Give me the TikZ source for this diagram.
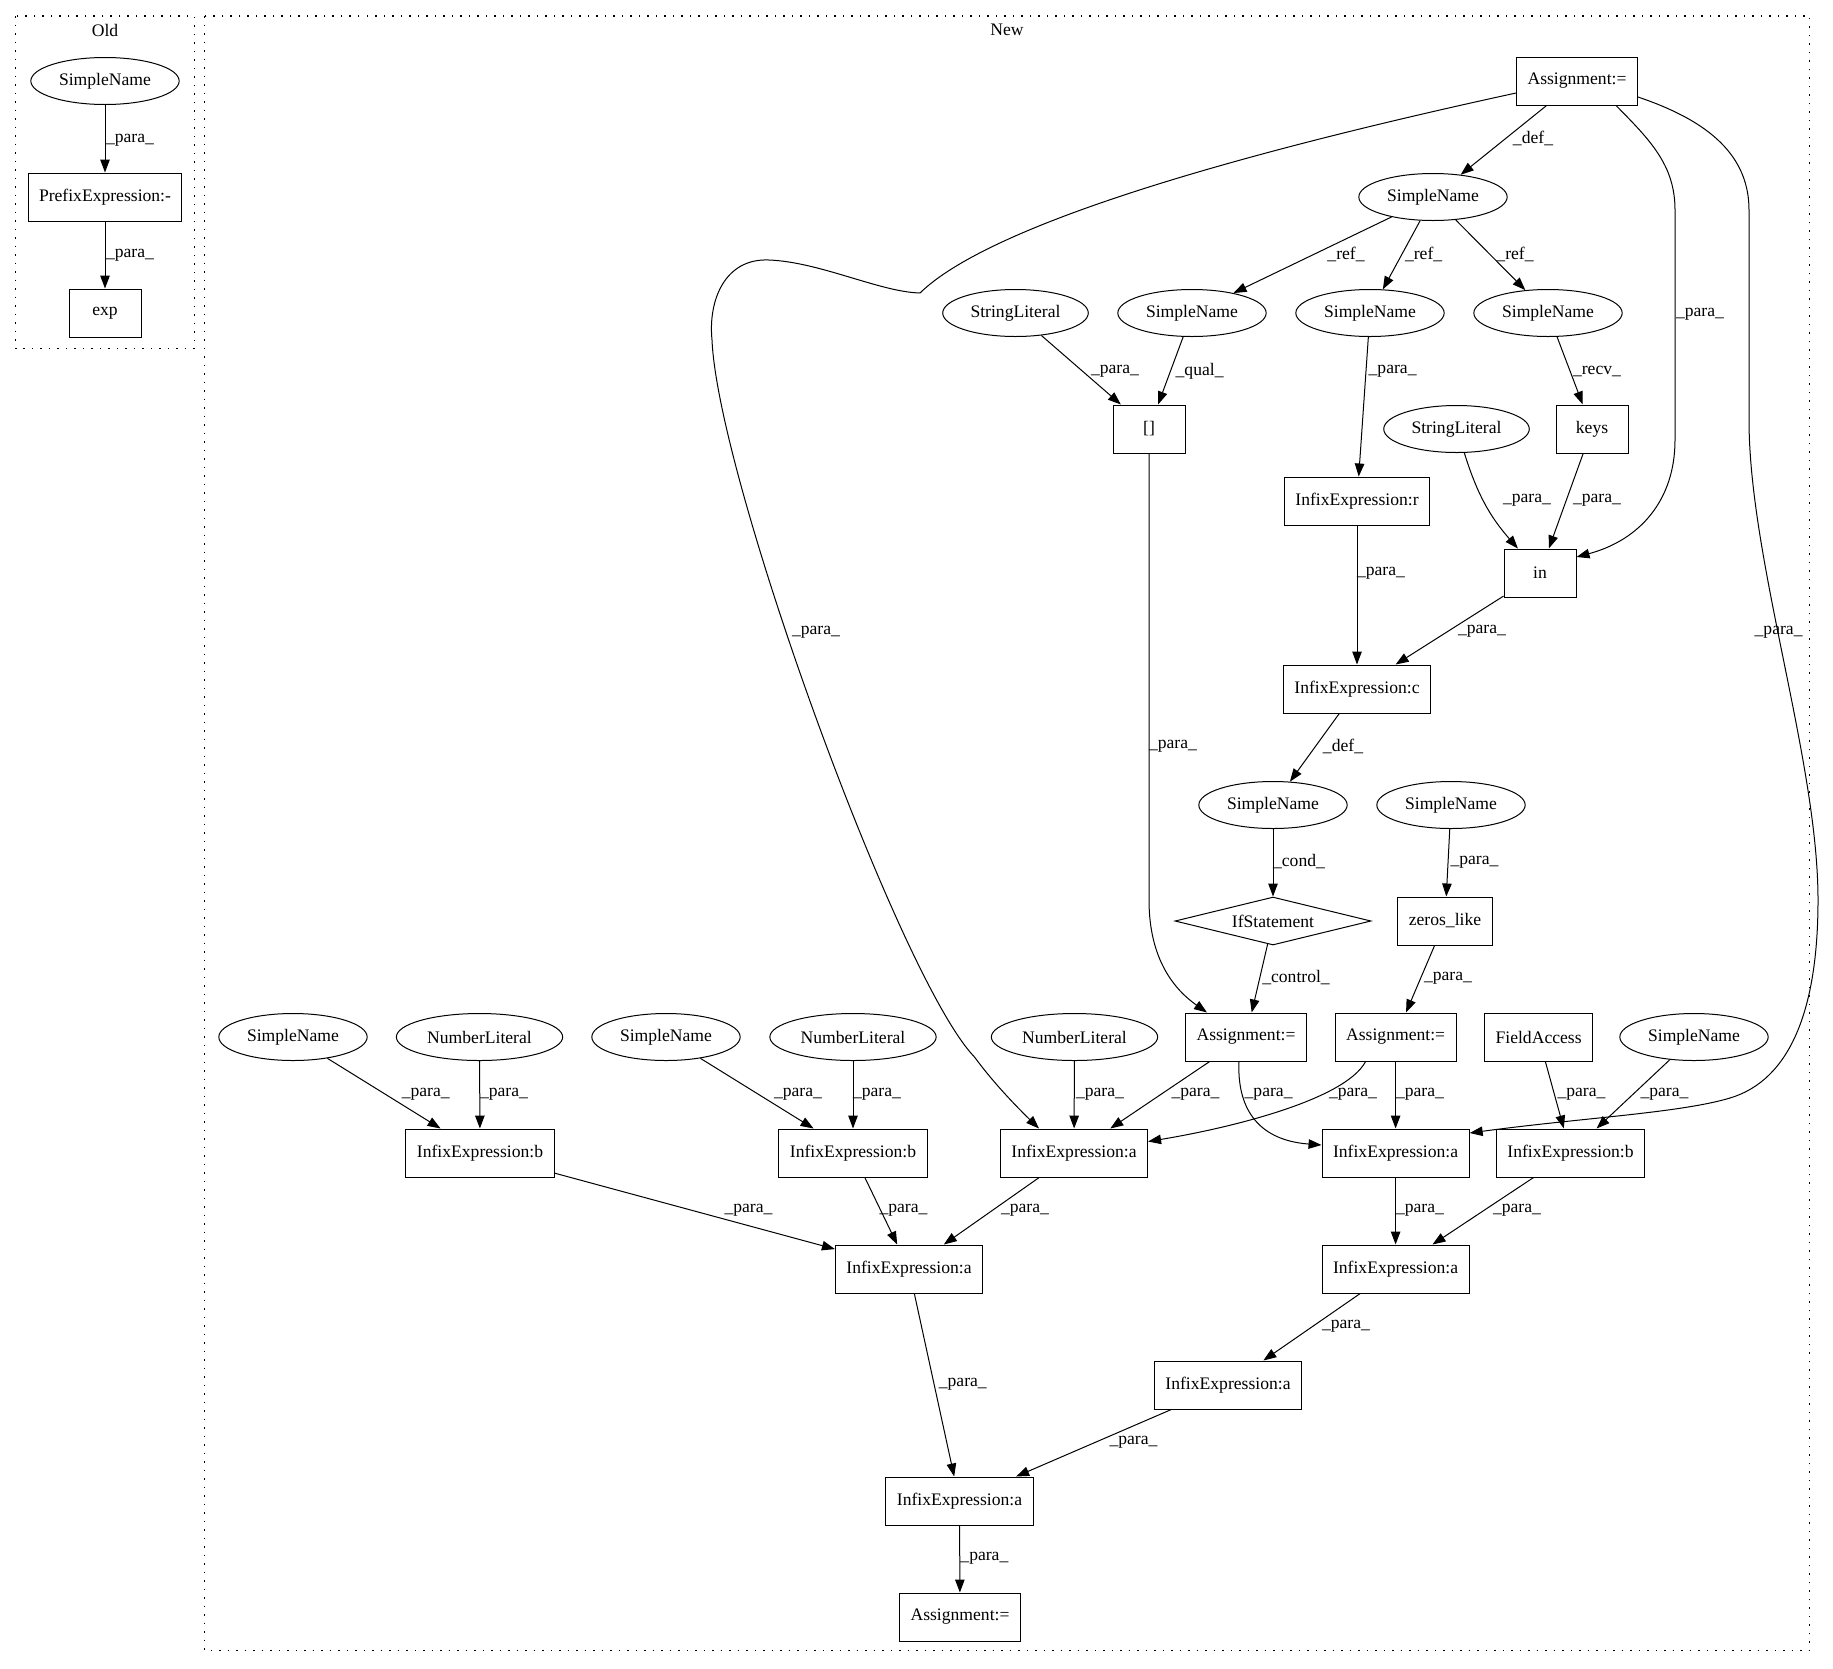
\documentclass[tikz,border=0pt]{standalone}
\usepackage{fontspec}
\setmainfont{Liberation Serif}
\usetikzlibrary{arrows.meta,shapes.geometric}
\tikzset{
  astbox/.style={draw,line width=1pt,rectangle,minimum width=72pt,minimum height=48pt,
                 inner xsep=11pt,inner ysep=2pt},
  astoval/.style={draw,line width=1pt,ellipse,minimum height=47pt,inner xsep=6.5pt,inner ysep=2pt},
  astcond/.style={draw,line width=1pt,diamond,shape aspect=4,minimum width=196pt,
                  minimum height=48pt,inner sep=0pt},
  flow/.style={line width=1pt,-{Triangle[length=13pt,width=9.5pt]}},
  elab/.style={inner sep=0pt},
  clus/.style={line width=1.2pt,dash pattern=on 1.5pt off 7pt},
}
\begin{document}
\begin{tikzpicture}[x=1pt,y=-1pt,font=\fontsize{17.6}{21}\selectfont]
  \useasboundingbox (0,0) rectangle (1833,1668);
  % Old
  \draw[clus] (15.8,16) rectangle (194.7,348.4);
  \node (oldt) at (105,30) {Old};
  \node[astoval] (oSN) at (105,81) {SimpleName};
  \node[astbox] (oPre) at (105,197) {PrefixExpression:-};
  \node[astbox] (oExp) at (105,313) {exp};
  \draw[flow] (oSN) -- (oPre) node[elab] at (130,140) {\_para\_};
  \draw[flow] (oPre) -- (oExp) node[elab] at (130,255) {\_para\_};

  % New
  \draw[clus] (204.7,16) rectangle (1809.6,1650.5);
  \node (newt) at (1007,30) {New};
  \node[astbox] (asgTop) at (1577,81) {Assignment:=};
  \node[astoval] (snDef) at (1433,197) {SimpleName};
  \node[astoval] (strA) at (1015.5,313) {StringLiteral};
  \node[astoval] (snA) at (1192,313) {SimpleName};
  \node[astoval] (snB) at (1370,313) {SimpleName};
  \node[astoval] (snC) at (1548,313) {SimpleName};
  \node[astbox] (idx) at (1149,429) {[]};
  \node[astoval] (strB) at (1456.5,429) {StringLiteral};
  \node[astbox] (keys) at (1592,429) {keys};
  \node[astbox] (infR) at (1357,501) {InfixExpression:r};
  \node[astbox] (inOp) at (1540,573) {in};
  \node[astbox] (infC) at (1357,689) {InfixExpression:c};
  \node[astoval] (snCond) at (1273,805) {SimpleName};
  \node[astoval] (snZ) at (1451,805) {SimpleName};
  \node[astcond] (ifSt) at (1273,921) {IfStatement};
  \node[astbox] (zeros) at (1445,921) {zeros\_like};
  \node[astoval] (sn1) at (293,1037) {SimpleName};
  \node[astoval] (num1) at (479.5,1037) {NumberLiteral};
  \node[astoval] (sn2) at (666,1037) {SimpleName};
  \node[astoval] (num2) at (853,1037) {NumberLiteral};
  \node[astoval] (num3) at (1074.5,1037) {NumberLiteral};
  \node[astbox] (asgL) at (1246,1037) {Assignment:=};
  \node[astbox] (asgR) at (1395.6,1037) {Assignment:=};
  \node[astbox] (field) at (1538.6,1037) {FieldAccess};
  \node[astoval] (snF) at (1694,1037) {SimpleName};
  \node[astbox] (ib1) at (480,1153) {InfixExpression:b};
  \node[astbox] (ib2) at (853,1153) {InfixExpression:b};
  \node[astbox] (ia1) at (1074,1153) {InfixExpression:a};
  \node[astbox] (ia2) at (1395.6,1153) {InfixExpression:a};
  \node[astbox] (ib3) at (1570.5,1153) {InfixExpression:b};
  \node[astbox] (ia3) at (909,1269) {InfixExpression:a};
  \node[astbox] (ia4) at (1395.6,1269) {InfixExpression:a};
  \node[astbox] (ia5) at (1228,1385) {InfixExpression:a};
  \node[astbox] (ia6) at (959.5,1501) {InfixExpression:a};
  \node[astbox] (asgEnd) at (960,1617) {Assignment:=};

  % edges from the top assignment
  \draw[flow] (asgTop) -- (snDef) node[elab] at (1533,138) {\_def\_};
  \draw[flow] ([yshift=-12pt]asgTop.west) .. controls (1300,140) and (1000,215) .. (920,293)
    .. controls (880,292) and (820,262) .. (769,260)
    .. controls (725,258) and (708,300) .. (712,340)
    .. controls (718,480) and (900,980) .. (974.5,1057)
    .. controls (995,1085) and (1020,1110) .. ([xshift=-35pt]ia1.north)
    node[elab] at (816,632) {\_para\_};
  \draw[flow] ([xshift=39pt]asgTop.south) .. controls (1650,140) and (1675,165) .. (1675,210)
    -- (1675,440) .. controls (1675,500) and (1640,540) .. ([yshift=16pt]inOp.east)
    node[elab] at (1700,314) {\_para\_};
  \draw[flow] ([yshift=-16pt]asgTop.east) .. controls (1700,118) and (1749,150) .. (1749,210)
    -- (1749,420) .. controls (1749,560) and (1818,760) .. (1818,900)
    .. controls (1818,1010) and (1790,1080) .. (1730,1098)
    .. controls (1680,1113) and (1580,1118) .. ([yshift=20pt]ia2.east)
    node[elab] at (1778.6,632) {\_para\_};

  \draw[flow] (snDef) -- (snA) node[elab] at (1346,254) {\_ref\_};
  \draw[flow] (snDef) -- (snB) node[elab] at (1423.6,254) {\_ref\_};
  \draw[flow] (snDef) -- (snC) node[elab] at (1515,254) {\_ref\_};
  \draw[flow] (strA) -- (idx) node[elab] at (1115,371) {\_para\_};
  \draw[flow] (snA) -- (idx) node[elab] at (1199.6,371) {\_qual\_};
  \draw[flow] (snB) -- (infR) node[elab] at (1392.6,371) {\_para\_};
  \draw[flow] (snC) -- (keys) node[elab] at (1597,371) {\_recv\_};
  \draw[flow] (strB) to[bend right=12] (inOp) node[elab] at (1527,500) {\_para\_};
  \draw[flow] (keys) -- (inOp) node[elab] at (1597,500) {\_para\_};
  \draw[flow] (infR) -- (infC) node[elab] at (1381,573) {\_para\_};
  \draw[flow] (inOp) -- (infC) node[elab] at (1482,631) {\_para\_};
  \draw[flow] (infC) -- (snCond) node[elab] at (1343,746) {\_def\_};
  \draw[flow] (idx) -- (1149,900) .. controls (1149,960) and (1175,990) .. ([xshift=-39pt]asgL.north)
    node[elab] at (1173,746) {\_para\_};
  \draw[flow] (snCond) -- (ifSt) node[elab] at (1299,862) {\_cond\_};
  \draw[flow] (snZ) -- (zeros) node[elab] at (1474.5,862) {\_para\_};
  \draw[flow] (ifSt) -- (asgL) node[elab] at (1296,978) {\_control\_};
  \draw[flow] (zeros) -- (asgR) node[elab] at (1448,978) {\_para\_};

  % lower rows
  \draw[flow] (sn1) -- (ib1) node[elab] at (425.7,1094.6) {\_para\_};
  \draw[flow] (num1) -- (ib1) node[elab] at (504,1094.6) {\_para\_};
  \draw[flow] (sn2) -- (ib2) node[elab] at (798,1094.6) {\_para\_};
  \draw[flow] (num2) -- (ib2) node[elab] at (877,1094.6) {\_para\_};
  \draw[flow] (num3) -- (ia1) node[elab] at (1100,1094.6) {\_para\_};
  \draw[flow] (asgL) -- (ia1) node[elab] at (1195.5,1094.6) {\_para\_};
  \draw[flow] ([xshift=-7pt]asgL.south) .. controls (1237,1105) and (1255,1140) .. ([yshift=8pt]ia2.west)
    node[elab] at (1268.6,1094.6) {\_para\_};
  \draw[flow] ([xshift=-30pt]asgR.south) .. controls (1345,1100) and (1230,1128) .. ([yshift=11.5pt]ia1.east)
    node[elab] at (1353,1094.6) {\_para\_};
  \draw[flow] (asgR) -- (ia2) node[elab] at (1420,1094.6) {\_para\_};
  \draw[flow] (field) -- (ib3) node[elab] at (1581.5,1094.6) {\_para\_};
  \draw[flow] (snF) -- (ib3) node[elab] at (1664.5,1094.6) {\_para\_};
  \draw[flow] (ib1) -- (ia3) node[elab] at (748.5,1210.6) {\_para\_};
  \draw[flow] (ib2) -- (ia3) node[elab] at (903.5,1210.6) {\_para\_};
  \draw[flow] (ia1) -- (ia3) node[elab] at (1025,1210.6) {\_para\_};
  \draw[flow] (ia2) -- (ia4) node[elab] at (1420,1210.6) {\_para\_};
  \draw[flow] (ib3) -- (ia4) node[elab] at (1517,1210.6) {\_para\_};
  \draw[flow] (ia4) -- (ia5) node[elab] at (1346,1326.5) {\_para\_};
  \draw[flow] (ia3) -- (ia6) node[elab] at (962.8,1384.5) {\_para\_};
  \draw[flow] (ia5) -- (ia6) node[elab] at (1133.5,1442) {\_para\_};
  \draw[flow] (ia6) -- (asgEnd) node[elab] at (984.4,1558.5) {\_para\_};
\end{tikzpicture}
\end{document}
